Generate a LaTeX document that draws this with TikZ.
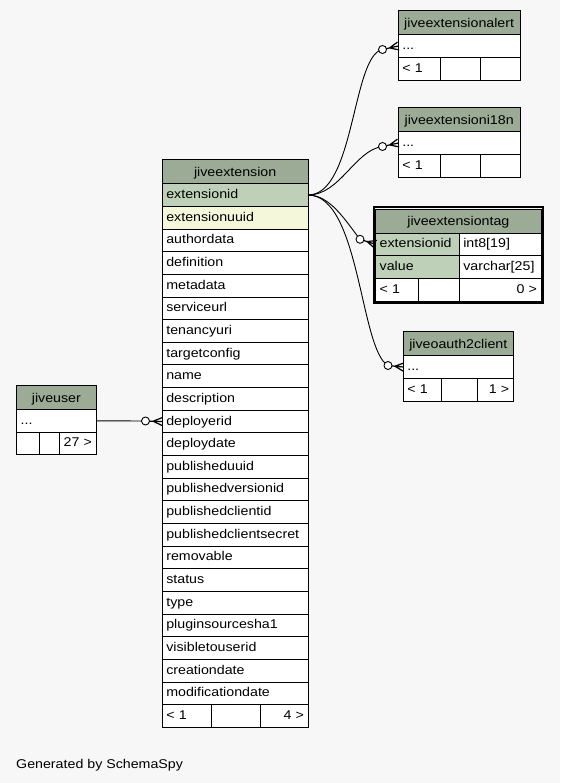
\documentclass[tikz,border=0pt]{standalone}
\usepackage{fontspec}
\setmainfont{Liberation Sans}[FakeStretch=1.12]
\usepackage{xcolor}
\usetikzlibrary{positioning,fit,calc}

\definecolor{pagebg}{HTML}{F7F7F7}
\definecolor{hdrgreen}{HTML}{9BAB96}
\definecolor{keygreen}{HTML}{BED1B8}
\definecolor{idxyellow}{HTML}{F4F7DA}

% ring + crow's foot: #1 ring centre, #2 point on the table
\newcommand{\crowfoot}[2]{%
  \draw [line width=1.2pt] ($(#1)!0.45!(#2)$) -- ($(#2)!4pt!90:(#1)$)
        ($(#1)!0.45!(#2)$) -- ($(#2)!4pt!-90:(#1)$)
        (#1) -- (#2);
  \draw [line width=0.9pt, fill=white] (#1) circle (4pt);
}

\begin{document}
\begin{tikzpicture}[
      x=1pt, y=-1pt,
      font=\fontsize{12.7}{14}\selectfont,
      cell/.style={draw, fill=white, line width=0.9pt, outer sep=0pt, inner xsep=4pt, inner ysep=0pt,
        minimum height=22.65pt, text height=10pt, text depth=3pt, align=left},
      hd/.style={cell, fill=hdrgreen, align=center, minimum height=24pt, text height=11pt, text depth=2pt},
      pk/.style={cell, fill=keygreen},
      ix/.style={cell, fill=idxyellow},
      rt/.style={cell, align=right},
      fk/.style={line width=0.9pt},
      extw/.style={text width=137.7pt},
      node distance=0pt,
    ]
    \path [use as bounding box, fill=pagebg] (0,0) rectangle (560,783);

    % jiveextension (middle)
    \node (ext) [hd, extw, anchor=north west] at (162.3,159.7) {jiveextension};
    \node (ext-extensionid) [pk, extw, below=of ext] {extensionid};
    \node (ext-extensionuuid) [ix, extw, below=of ext-extensionid] {extensionuuid};
    \node (ext-authordata) [cell, extw, below=of ext-extensionuuid] {authordata};
    \node (ext-definition) [cell, extw, below=of ext-authordata] {definition};
    \node (ext-metadata) [cell, extw, below=of ext-definition] {metadata};
    \node (ext-serviceurl) [cell, extw, below=of ext-metadata] {serviceurl};
    \node (ext-tenancyuri) [cell, extw, below=of ext-serviceurl] {tenancyuri};
    \node (ext-targetconfig) [cell, extw, below=of ext-tenancyuri] {targetconfig};
    \node (ext-name) [cell, extw, below=of ext-targetconfig] {name};
    \node (ext-description) [cell, extw, below=of ext-name] {description};
    \node (ext-deployerid) [cell, extw, below=of ext-description] {deployerid};
    \node (ext-deploydate) [cell, extw, below=of ext-deployerid] {deploydate};
    \node (ext-publisheduuid) [cell, extw, below=of ext-deploydate] {publisheduuid};
    \node (ext-publishedversionid) [cell, extw, below=of ext-publisheduuid] {publishedversionid};
    \node (ext-publishedclientid) [cell, extw, below=of ext-publishedversionid] {publishedclientid};
    \node (ext-publishedclientsecret) [cell, extw, below=of ext-publishedclientid] {publishedclientsecret};
    \node (ext-removable) [cell, extw, below=of ext-publishedclientsecret] {removable};
    \node (ext-status) [cell, extw, below=of ext-removable] {status};
    \node (ext-type) [cell, extw, below=of ext-status] {type};
    \node (ext-pluginsourcesha1) [cell, extw, below=of ext-type] {pluginsourcesha1};
    \node (ext-visibletouserid) [cell, extw, below=of ext-pluginsourcesha1] {visibletouserid};
    \node (ext-creationdate) [cell, extw, below=of ext-visibletouserid] {creationdate};
    \node (ext-modificationdate) [cell, extw, below=of ext-creationdate] {modificationdate};
    \node (ext-f1) [cell, text width=41.4pt, anchor=north west] at (ext-modificationdate.south west) {< 1};
    \node (ext-f2) [cell, text width=40.3pt, right=of ext-f1] {};
    \node (ext-f3) [rt, text width=40pt, right=of ext-f2] {4 >};

    % jiveuser (left)
    \node (user) [hd, text width=71.3pt, anchor=north west] at (16.7,385.5) {jiveuser};
    \node (user-dots) [cell, text width=71.3pt, below=of user] {...};
    \node (user-f1) [cell, text width=14.3pt, anchor=north west] at (user-dots.south west) {};
    \node (user-f2) [cell, text width=12pt, right=of user-f1] {};
    \node (user-f3) [rt, text width=29pt, right=of user-f2] {27 >};

    % child tables (right)
    \node (alert) [hd, text width=113.7pt, anchor=north west] at (398.3,10.7) {jiveextensionalert};
    \node (alert-dots) [cell, text width=113.7pt, below=of alert] {...};
    \node (alert-f1) [cell, text width=33.7pt, anchor=north west] at (alert-dots.south west) {< 1};
    \node (alert-f2) [cell, text width=32pt, right=of alert-f1] {};
    \node (alert-f3) [cell, text width=32pt, right=of alert-f2] {};

    \node (i18n) [hd, text width=113.7pt, anchor=north west] at (398.3,107.7) {jiveextensioni18n};
    \node (i18n-dots) [cell, text width=113.7pt, below=of i18n] {...};
    \node (i18n-f1) [cell, text width=33.7pt, anchor=north west] at (i18n-dots.south west) {< 1};
    \node (i18n-f2) [cell, text width=32pt, right=of i18n-f1] {};
    \node (i18n-f3) [cell, text width=32pt, right=of i18n-f2] {};

    \node (tag) [hd, text width=157.3pt, anchor=north west] at (375.7,209) {jiveextensiontag};
    \node (tag-extensionid) [pk, text width=75.6pt, anchor=north west] at (tag.south west) {extensionid};
    \node (tag-extensionid-t) [cell, text width=73.7pt, right=of tag-extensionid] {int8[19]};
    \node (tag-value) [pk, text width=75.6pt, below=of tag-extensionid] {value};
    \node (tag-value-t) [cell, text width=73.7pt, right=of tag-value] {varchar[25]};
    \node (tag-f1) [cell, text width=34.6pt, anchor=north west] at (tag-value.south west) {< 1};
    \node (tag-f2) [cell, text width=33pt, right=of tag-f1] {};
    \node (tag-f3) [rt, text width=73.7pt, right=of tag-f2] {0 >};
    \node (tag-frame) [draw, line width=2.6pt, inner sep=1.9pt, fit=(tag)(tag-f1)(tag-f3)] {};

    \node (oauth) [hd, text width=102pt, anchor=north west] at (403.3,331.7) {jiveoauth2client};
    \node (oauth-dots) [cell, text width=102pt, below=of oauth] {...};
    \node (oauth-f1) [cell, text width=29.7pt, anchor=north west] at (oauth-dots.south west) {< 1};
    \node (oauth-f2) [cell, text width=28.3pt, right=of oauth-f1] {};
    \node (oauth-f3) [rt, text width=28pt, right=of oauth-f2] {1 >};

    % relationships
    \coordinate (c-alert) at (382.5,49.5);
    \coordinate (c-i18n) at (382.5,146.5);
    \coordinate (c-tag) at (360,239.3);
    \coordinate (c-oauth) at (388,365.5);
    \coordinate (c-user) at (145.5,421);
    \draw [fk] (ext-extensionid.east) .. controls +(47,0) and +(-30.5,5.5) .. (c-alert);
    \draw [fk] (ext-extensionid.east) .. controls +(32,0) and +(-27.5,3.5) .. (c-i18n);
    \draw [fk] (ext-extensionid.east) .. controls +(22,0) and +(-15,-19.3) .. (c-tag);
    \draw [fk] (ext-extensionid.east) .. controls +(52,0) and +(-28,-15.5) .. (c-oauth);
    \draw [fk] (user-dots.east) -- (c-user);
    \crowfoot{c-alert}{alert-dots.west}
    \crowfoot{c-i18n}{i18n-dots.west}
    \crowfoot{c-tag}{tag-extensionid.west}
    \crowfoot{c-oauth}{oauth-dots.west}
    \crowfoot{c-user}{ext-deployerid.west}

    \node (credit) [anchor=base west, inner sep=0pt] at (16,768) {Generated by SchemaSpy};
  \end{tikzpicture}
\end{document}
